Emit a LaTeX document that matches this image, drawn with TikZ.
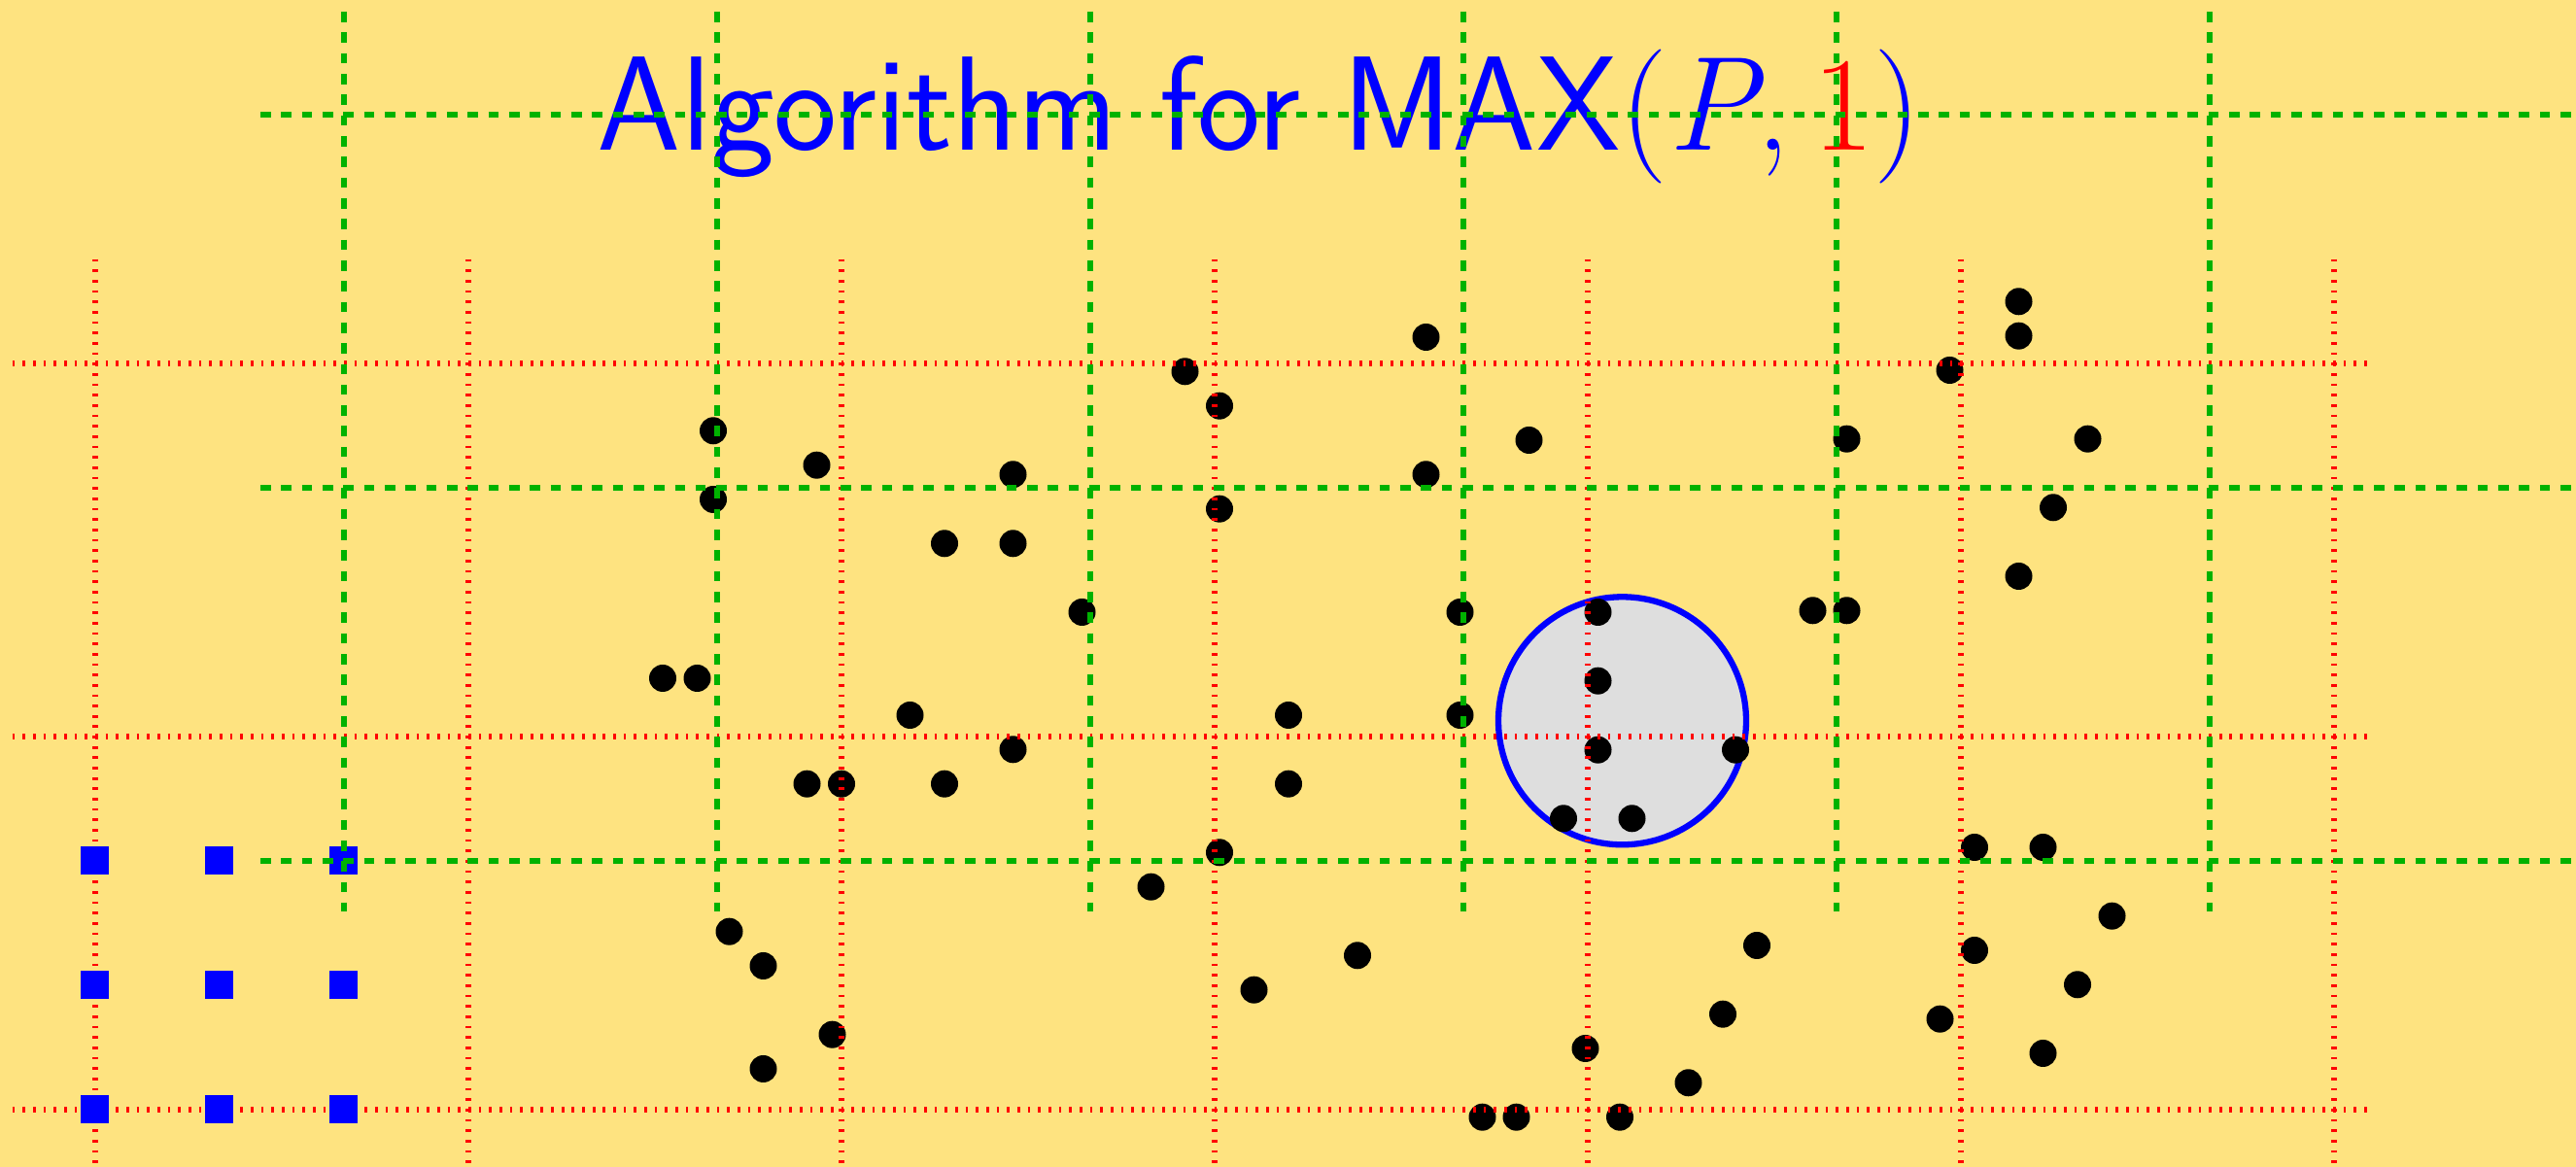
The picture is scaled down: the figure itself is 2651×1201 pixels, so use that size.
\documentclass[tikz,border=0pt]{standalone}
\definecolor{bgcol}{RGB}{254,227,128}
\definecolor{gridgreen}{RGB}{0,178,0}
\definecolor{diskgray}{RGB}{222,222,222}
\tikzset{
  redline/.style={red, line width=1.35pt, dash pattern=on 0.6pt off 1.77pt},
  greenline/.style={gridgreen, line width=1.3pt, dash pattern=on 2.37pt off 2.37pt},
  dotpt/.style={circle, fill=black, inner sep=0pt, minimum size=0.21875cm},
  sqpt/.style={rectangle, fill=blue, inner sep=0pt, minimum size=0.2266cm},
  disk/.style={circle, draw=blue, line width=1.4pt, fill=diskgray, inner sep=0pt, minimum size=1.992cm}
}
\begin{document}
\begin{tikzpicture}[x=0.0078125cm, y=-0.0078125cm]
\useasboundingbox (0,0) rectangle (2651,1201);
\clip (0,0) rectangle (2651,1201);
\fill[bgcol] (0,0) rectangle (2651,1201);
% disk
\node[disk] (disk) at (1669.5,741.8) {};
% points
\foreach \x/\y [count=\n] in {734/443.3,840.5/478.7,1042.5/488.3,734/514,1219.5/382.3,1255/417.7,1255/523.7,972/559.3,1042.5/559.3,1113.5/630,682/698,717.5/698,
1467.5/347,2077.5/310.3,2077.5/345.7,2006.5/381,1573.5/453,1900.5/451.7,2148.5/451.7,1467.5/488.3,2113/522.3,2077.5/593,1502.5/630,1644.5/630,1865.5/628.3,1900.5/628.3,1644.5/700.7,
936.5/736,1326/736,1042.5/771.3,830.5/806.7,866/806.7,972/806.7,1326/806.7,1255/877.3,1184.5/912.7,750.5/958.7,785.5/994,1397/983.3,1290.5/1018.7,856.5/1064.7,785.5/1100,
1644.5/771.7,1786/771.7,1609/842.3,1679.5/842.3,1502.5/736,2032/872,2102.5/872,2173.5/942.7,1808/973,2032/978,2138/1013.3,1773/1043.7,1996.5/1048.7,1631.5/1079,2102.5/1084,1737.5/1114.3,1525.5/1149.7,1560.5/1149.7,1667/1149.7}
  \node[dotpt] (d\n) at (\x,\y) {};
% red grid
\foreach \k in {0,...,6}
  \draw[redline] ({97.7+384*\k},266.7) -- ({97.7+384*\k},1205);
\foreach \k in {0,1,2}
  \draw[redline] (12.7,{373.7+384*\k}) -- (2436.7,{373.7+384*\k});
% squares
\foreach \i in {0,1,2}
  \foreach \j in {0,1,2}
    \node[sqpt] (s\i\j) at ({97.7+128*\i},{886+128*\j}) {};
% title
\node[anchor=base west, inner sep=0pt, text=blue] (title) at (614,155)
  {\fontsize{30.7}{36}\selectfont\sffamily Algorithm for MAX{\rmfamily(\textit{P},\,\textcolor{red}{1})}};
% green grid
\foreach \k in {0,...,5}
  \draw[greenline] ({354+384*\k},12) -- ({354+384*\k},938);
\foreach \k in {0,1,2}
  \draw[greenline] (268,{117.7+384*\k}) -- (2660,{117.7+384*\k});
\end{tikzpicture}
\end{document}
